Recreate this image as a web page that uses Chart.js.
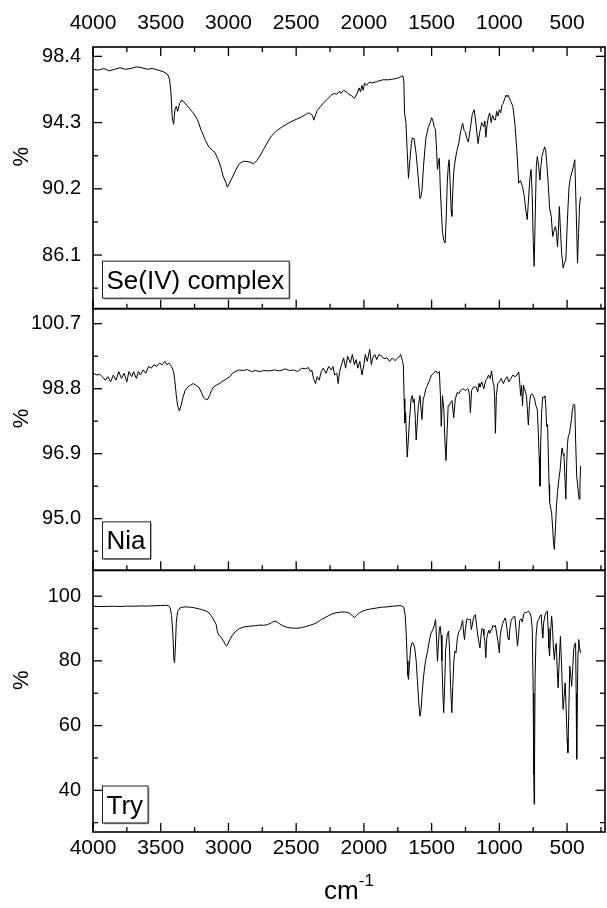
<!DOCTYPE html>
<html><head><meta charset="utf-8">
<script src="https://cdn.jsdelivr.net/npm/chart.js@4.4.0/dist/chart.umd.min.js"></script>
<style>html,body{margin:0;padding:0;background:#fff;}canvas{display:block;}</style>
</head><body>
<canvas id="c" width="607" height="908"></canvas>
<script>
// ---------- axis ticks ----------
const xMajorTicks = [4000,3500,3000,2500,2000,1500,1000,500];
const xMinorTicks = [3750,3250,2750,2250,1750,1250,750,250];
const seTicks = [98.4,94.3,90.2,86.1];
const seMinor = [96.35,92.25,88.15,84.05];
const niaTicks = [100.7,98.8,96.9,95.0];
const niaMinor = [99.75,97.85,95.95,94.05];
const tryTicks = [40,60,80,100];
const tryMinor = [30,50,70,90];
const panelNames = ['Se(IV) complex','Nia','Try'];

// ---------- Se(IV) complex ----------
const seWn = [4000,3960,3920,3880,3840,3800,3760,3720,3680,3640,3600,3560,3520,3480,3450,3435,3425,3415,3405,3395,3385,3375,3360,3345,3320,3290,3260,3230,3200,3170,3145,3120,3100,3075,3055,3040,3020,3008,2995,2975,2950,2920,2890,2870,2840,2815,2790,2760,2740,2710,2680,2650,2610,2570,2540,2500,2460,2430,2410,2395,2380,2370,2360,2345,2320,2300,2270,2240,2220,2200,2180,2170,2150,2130,2110,2090,2070,2050,2035,2025,2015,2005,1995,1980,1960,1940,1900,1860,1820,1780,1750,1725,1712,1705,1700,1690,1680,1671,1660,1650,1643,1629,1615,1606,1596,1586,1578,1571,1560,1543,1525,1510,1500,1490,1480,1471,1463,1457,1450,1443,1435,1420,1410,1400,1392,1385,1378,1371,1363,1356,1351,1343,1336,1329,1315,1300,1285,1271,1260,1250,1240,1229,1215,1200,1186,1175,1165,1157,1145,1130,1114,1107,1100,1090,1080,1071,1060,1050,1040,1029,1020,1010,1000,990,980,971,960,950,943,935,925,915,900,885,870,857,845,835,829,815,805,794,785,775,766,758,750,743,736,727,720,710,700,693,686,676,666,658,651,640,629,617,606,596,586,578,571,564,557,548,540,529,519,509,498,486,475,463,453,443,433,423,415,408,400];
const seT = [97.6,97.55,97.65,97.5,97.6,97.7,97.6,97.65,97.75,97.7,97.6,97.65,97.55,97.45,97.3,97.0,96.2,94.6,94.2,95.1,95.3,95.0,95.5,95.7,95.5,95.2,94.9,94.5,93.8,93.2,92.8,92.6,92.45,92.0,91.5,91.0,90.6,90.3,90.5,90.85,91.3,91.75,91.9,91.9,91.85,91.75,91.95,92.35,92.65,93.1,93.5,93.75,94.0,94.2,94.35,94.5,94.65,94.8,94.9,94.85,94.75,94.45,94.7,95.05,95.3,95.5,95.75,96.0,96.1,96.05,96.25,96.1,96.3,96.2,96.05,95.95,95.8,96.1,96.45,96.2,96.6,96.3,96.75,96.6,96.8,96.75,96.85,96.95,96.95,97.0,97.05,97.15,97.2,96.8,94.9,94.3,92.5,90.85,92.0,93.0,93.35,93.3,92.4,91.6,90.6,89.6,89.75,90.1,91.6,93.3,94.0,94.3,94.6,94.4,94.0,93.85,92.5,91.4,91.8,92.1,90.0,87.5,87.0,86.85,88.5,90.5,91.5,92.0,90.5,88.9,88.5,90.2,91.3,91.8,92.5,93.0,93.8,94.26,93.8,93.7,93.3,93.1,93.9,94.8,95.1,94.4,93.6,93.0,93.7,94.3,94.05,94.4,93.4,94.2,94.7,94.9,94.3,94.75,94.5,94.46,95.0,94.7,95.1,94.9,95.4,95.5,95.8,96.0,95.9,96.0,95.8,95.6,95.3,94.2,92.5,90.55,90.7,90.5,90.35,89.7,88.9,88.3,89.5,90.8,91.4,90.0,87.0,85.4,88.2,91.6,92.2,91.6,90.75,91.6,92.2,92.5,92.8,92.6,91.9,90.6,89.0,88.5,87.25,87.6,87.87,87.5,86.6,87.6,89.1,87.5,86.2,85.3,85.6,85.8,88.2,90.3,90.9,91.27,91.6,92.0,89.0,85.6,87.5,89.2,89.7];

// ---------- Nia ----------
const niaWn = [4000,3970,3950,3930,3910,3890,3870,3850,3830,3810,3790,3770,3750,3735,3715,3700,3680,3665,3650,3630,3610,3590,3570,3550,3530,3510,3490,3470,3455,3440,3420,3405,3395,3385,3375,3362,3350,3335,3320,3300,3280,3260,3240,3220,3200,3185,3170,3155,3140,3125,3110,3090,3070,3050,3030,3010,2990,2970,2950,2920,2890,2860,2830,2800,2770,2740,2700,2660,2620,2580,2550,2520,2490,2460,2430,2410,2395,2385,2372,2357,2345,2330,2315,2300,2280,2260,2240,2229,2215,2200,2190,2180,2165,2150,2135,2120,2100,2085,2070,2057,2045,2030,2014,2000,1990,1975,1957,1945,1935,1920,1905,1890,1870,1850,1829,1810,1790,1771,1750,1735,1729,1715,1709,1703,1698,1692,1685,1680,1672,1663,1652,1643,1636,1629,1620,1614,1606,1598,1586,1578,1571,1562,1553,1543,1530,1515,1500,1485,1471,1455,1443,1435,1429,1420,1410,1402,1394,1385,1378,1371,1360,1349,1337,1325,1310,1300,1286,1270,1250,1235,1229,1220,1214,1205,1190,1171,1160,1150,1143,1130,1115,1100,1090,1080,1068,1057,1048,1040,1035,1029,1022,1012,1000,986,970,960,943,930,915,900,885,870,857,850,843,836,829,822,814,800,793,786,778,770,760,749,740,730,720,712,706,700,694,688,680,670,663,657,651,644,638,633,629,620,614,606,600,594,585,578,571,562,551,544,537,530,523,516,509,503,497,491,482,475,467,461,457,450,443,437,429,420,411,405,400];
const niaT = [99.25,99.2,99.22,99.15,99.05,99.15,99.0,99.2,99.05,99.3,99.1,99.25,99.0,99.3,99.15,99.3,99.1,99.3,99.2,99.35,99.25,99.45,99.4,99.5,99.45,99.55,99.5,99.6,99.5,99.55,99.45,99.3,99.0,98.6,98.3,98.15,98.3,98.55,98.75,98.85,98.9,98.95,98.9,98.85,98.7,98.55,98.5,98.48,98.6,98.75,98.85,98.9,98.95,99.0,99.05,99.1,99.15,99.25,99.3,99.35,99.33,99.36,99.3,99.33,99.3,99.33,99.32,99.35,99.32,99.38,99.33,99.35,99.3,99.4,99.38,99.42,99.3,99.35,99.1,98.95,99.15,99.05,99.3,99.4,99.25,99.45,99.35,99.45,99.2,99.25,98.95,99.3,99.5,99.7,99.4,99.75,99.55,99.8,99.5,99.65,99.4,99.6,99.2,99.5,99.8,99.6,99.95,99.5,99.7,99.8,99.65,99.8,99.75,99.68,99.7,99.6,99.7,99.62,99.7,99.75,99.8,99.6,99.5,98.5,97.8,98.1,97.3,96.8,97.3,97.9,98.5,98.6,98.4,98.5,97.9,97.3,97.8,98.3,98.6,98.2,97.9,98.5,98.6,98.8,98.9,99.05,99.2,99.25,99.32,99.25,99.3,98.6,97.7,98.6,98.2,97.3,96.7,97.6,98.3,98.3,98.4,98.45,97.95,98.5,98.7,98.65,98.75,98.8,98.75,98.8,98.78,98.6,98.1,98.75,98.85,98.85,98.7,98.95,98.85,99.0,98.8,99.05,99.1,99.2,99.1,99.32,99.0,98.9,98.6,97.5,98.6,98.95,99.0,99.1,98.95,99.05,99.15,99.0,99.1,99.2,99.15,99.2,99.29,99.0,98.6,98.9,98.3,98.9,98.8,98.6,98.2,97.74,98.3,98.6,98.65,98.59,98.5,98.3,98.2,97.5,96.8,95.95,97.3,98.1,98.55,98.55,98.59,98.3,97.7,97.75,96.8,96.0,95.5,95.3,95.17,94.7,94.3,94.1,94.8,95.4,95.76,96.1,96.44,96.8,97.07,96.9,96.85,96.2,95.57,96.6,97.2,97.4,97.5,97.7,97.9,98.2,98.3,98.35,98.32,97.3,96.25,95.9,95.57,96.0,96.54];

// ---------- Try ----------
const tryWn = [4000,3950,3900,3850,3800,3750,3700,3650,3600,3550,3500,3470,3445,3432,3420,3410,3403,3398,3392,3385,3375,3360,3340,3314,3280,3250,3220,3200,3170,3143,3120,3100,3091,3081,3071,3060,3050,3035,3020,3014,3005,2990,2971,2950,2920,2886,2850,2800,2760,2740,2714,2690,2670,2657,2640,2620,2600,2571,2540,2510,2486,2460,2430,2400,2370,2340,2314,2290,2260,2229,2200,2170,2143,2120,2100,2085,2071,2055,2035,2014,1990,1970,1943,1900,1870,1829,1790,1760,1743,1720,1705,1695,1688,1680,1675,1671,1665,1655,1645,1634,1625,1614,1605,1595,1586,1578,1570,1560,1550,1543,1530,1516,1505,1491,1480,1471,1465,1457,1450,1443,1437,1430,1424,1417,1411,1404,1397,1385,1375,1368,1360,1351,1344,1336,1328,1320,1310,1300,1286,1278,1271,1262,1257,1250,1240,1229,1214,1207,1200,1190,1177,1168,1160,1152,1143,1135,1128,1120,1114,1107,1100,1093,1085,1078,1070,1064,1057,1048,1038,1029,1018,1010,1000,993,985,976,966,957,950,943,936,929,922,913,900,886,875,866,858,850,840,830,820,810,800,786,775,766,757,750,746,743,740,736,729,720,709,700,691,685,680,672,663,655,646,640,634,629,622,614,607,601,594,587,580,573,566,558,549,540,534,529,522,514,505,500,494,487,480,472,466,458,451,444,437,433,429,424,419,414,408,400];
const tryT = [96.9,96.8,96.85,96.9,96.8,96.95,96.9,97.0,96.95,97.05,97.1,97.2,97.1,96.6,94.0,88.0,80.5,79.4,84.0,92.0,95.3,96.3,96.6,96.7,96.6,96.4,96.1,95.9,95.5,94.9,93.5,92.0,91.25,89.0,87.9,87.6,87.0,86.0,84.8,84.6,85.2,86.6,87.9,89.0,90.0,90.5,90.7,90.9,91.1,91.0,91.2,91.6,92.1,92.3,92.0,91.4,90.9,90.4,90.2,90.1,90.1,90.3,90.6,91.0,91.4,92.0,92.8,93.3,94.0,94.6,94.9,95.1,95.1,95.0,94.6,93.9,93.4,94.0,94.8,95.3,95.7,95.9,96.1,96.4,96.6,96.7,96.9,97.0,97.1,97.0,96.6,94.0,88.7,80.0,75.5,74.3,78.0,84.0,85.6,85.4,84.0,80.0,74.0,67.0,62.9,65.0,70.0,75.0,78.5,80.4,83.0,86.5,88.5,89.7,91.0,92.8,88.0,79.9,85.0,90.0,90.7,88.0,80.0,70.0,64.0,72.0,83.0,88.0,89.2,84.0,72.0,64.0,72.0,80.0,83.0,82.5,87.0,89.0,89.8,91.5,92.5,88.0,86.6,90.0,93.0,92.8,92.8,89.7,91.0,93.5,94.3,91.0,88.0,86.0,84.0,88.0,90.0,89.8,88.0,86.0,81.0,87.0,88.5,89.5,88.5,89.5,89.5,91.0,90.5,91.0,88.0,86.0,82.5,88.0,90.0,91.5,92.5,93.3,92.0,89.5,87.0,86.6,90.0,92.5,93.5,93.8,89.0,84.6,88.0,92.5,93.0,92.0,94.6,95.0,94.9,95.4,94.8,93.8,90.0,70.0,45.0,35.7,50.0,75.0,87.6,92.0,92.8,93.8,94.3,90.0,87.1,92.0,94.0,95.0,95.4,90.0,84.0,81.5,89.0,93.8,90.0,84.0,80.4,84.0,85.4,78.0,71.7,80.0,87.6,78.0,70.0,65.0,69.0,73.2,63.0,56.0,51.6,65.0,78.4,75.0,72.2,78.0,83.5,85.0,85.6,70.0,49.6,70.0,83.0,86.6,84.0,82.5];

const FONT = '"Liberation Sans", Arial, Helvetica, sans-serif';

function pts(wn, t){ return wn.map((w,i)=>({x:w, y:t[i]})); }
function ds(wn, t, yID){
  return {data: pts(wn,t), yAxisID: yID, xAxisID: 'x', borderColor:'#000', borderWidth:1,
          pointRadius:0, fill:false, tension:0};
}
function yScale(min, max, ticks, fmt){
  return {
    type:'linear', position:'left', stack:'ir', stackWeight:1, min:min, max:max,
    grid:{display:false, drawTicks:false}, border:{display:false},
    afterBuildTicks: s => { s.ticks = ticks.map(v=>({value:v})); },
    afterFit: s => { s.width = 93; },
    ticks:{padding:12, color:'#000', font:{family:FONT, size:20}, callback: v => fmt(v)}
  };
}
function xScale(pos, h, pad){
  return {
    type:'linear', position:pos, reverse:true, min:220, max:4000,
    grid:{display:false, drawTicks:false}, border:{display:false},
    afterBuildTicks: s => { s.ticks = xMajorTicks.map(v=>({value:v})); },
    afterFit: s => { s.height = h; },
    ticks:{padding:pad, maxRotation:0, autoSkip:false, color:'#000', font:{family:FONT, size:21}, callback: v => String(v)}
  };
}

const panels = [
  {id:'ySe', maj:seTicks, min:seMinor, name:panelNames[0], boxBottom:11},
  {id:'yNia', maj:niaTicks, min:niaMinor, name:panelNames[1], boxBottom:12},
  {id:'yTry', maj:tryTicks, min:tryMinor, name:panelNames[2], boxBottom:9.5}
];

const framePlugin = {
  id:'frame',
  beforeDraw(chart){
    const c = chart.ctx; c.save(); c.fillStyle='#fff'; c.fillRect(0,0,chart.width,chart.height); c.restore();
  },
  afterDraw(chart){
    const c = chart.ctx, ca = chart.chartArea, xs = chart.scales.x;
    c.save();
    c.strokeStyle = '#000';
    const line = (x1,y1,x2,y2) => { c.beginPath(); c.moveTo(x1,y1); c.lineTo(x2,y2); c.stroke(); };
    panels.forEach((p, i) => {
      const s = chart.scales[p.id];
      c.lineWidth = 1.6;
      c.strokeRect(ca.left, s.top, ca.right - ca.left, s.bottom - s.top);
      c.lineWidth = 1.3;
      const yt = (v, len) => { const py = s.getPixelForValue(v); line(ca.left, py, ca.left+len, py); line(ca.right, py, ca.right-len, py); };
      p.maj.forEach(v => yt(v, 9));
      p.min.forEach(v => yt(v, 5));
      xMajorTicks.forEach(v => { const px = xs.getPixelForValue(v); line(px, s.bottom, px, s.bottom-9); if(i===0) line(px, s.top, px, s.top+9); });
      xMinorTicks.forEach(v => { const px = xs.getPixelForValue(v); line(px, s.bottom, px, s.bottom-5); if(i===0) line(px, s.top, px, s.top+5); });
      // y title
      c.save();
      c.fillStyle = '#000';
      c.font = '22px ' + FONT;
      c.translate(22, (s.top + s.bottom)/2 - 21);
      c.rotate(-Math.PI/2);
      c.textAlign = 'center'; c.textBaseline = 'middle';
      c.fillText('%', 0, 0);
      c.restore();
      // panel label box
      c.save();
      c.font = '26px ' + FONT;
      const tw = c.measureText(p.name).width;
      const bl = ca.left + 9, bb = s.bottom - p.boxBottom, bh = 37, bw = tw + 9;
      c.fillStyle = '#fff';
      c.fillRect(bl, bb - bh, bw, bh);
      c.strokeStyle = '#999'; c.lineWidth = 1.5;
      line(bl + bw + 1, bb - bh + 2, bl + bw + 1, bb + 1);
      line(bl + 2, bb + 1, bl + bw + 1, bb + 1);
      c.strokeStyle = '#222'; c.lineWidth = 1;
      c.strokeRect(bl + 0.5, bb - bh + 0.5, bw, bh);
      c.fillStyle = '#000'; c.textAlign = 'left'; c.textBaseline = 'alphabetic';
      c.fillText(p.name, bl + 4.5, bb - 9);
      c.restore();
    });
    // x title cm-1
    c.fillStyle = '#000';
    c.textBaseline = 'alphabetic'; c.textAlign = 'left';
    c.font = '26px ' + FONT;
    const w1 = c.measureText('cm').width;
    c.font = '17px ' + FONT;
    const w2 = c.measureText('-1').width;
    const cx = (ca.left + ca.right)/2 - (w1 + w2)/2;
    c.font = '26px ' + FONT;
    c.fillText('cm', cx, 899);
    c.font = '17px ' + FONT;
    c.fillText('-1', cx + w1, 886);
    c.restore();
  }
};

new Chart(document.getElementById('c'), {
  type:'line',
  data:{datasets:[ ds(tryWn, tryT, 'yTry'), ds(niaWn, niaT, 'yNia'), ds(seWn, seT, 'ySe') ]},
  options:{
    responsive:false, devicePixelRatio:1, animation:false, events:[],
    layout:{padding:{left:0, right:2, top:0, bottom:0}},
    plugins:{legend:{display:false}, tooltip:{enabled:false}},
    scales:{
      x: xScale('bottom', 76, 4),
      xTop: xScale('top', 47, 11),
      yTry: yScale(27.1, 108, tryTicks, v => String(v)),
      yNia: yScale(93.49, 101.14, niaTicks, v => v.toFixed(1)),
      ySe: yScale(82.78, 98.98, seTicks, v => v.toFixed(1))
    }
  },
  plugins:[framePlugin]
});
</script>
</body></html>
